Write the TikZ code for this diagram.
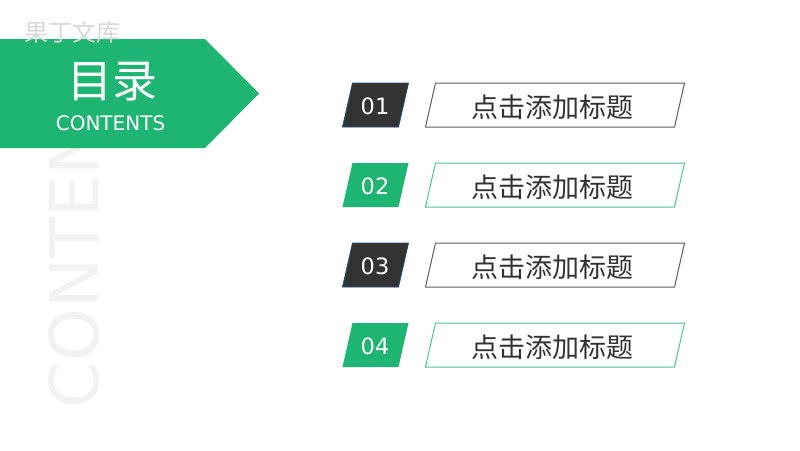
\documentclass[tikz,border=0pt]{standalone}
\usepackage{fontspec}
\setmainfont{DejaVu Sans}
\newfontfamily\cjk{Noto Sans CJK SC}[Scale=1.0]
\definecolor{brandgreen}{HTML}{1DB571}
\definecolor{darkfill}{HTML}{333333}
\definecolor{darkedge}{HTML}{1F4E79}
\definecolor{greyedge}{HTML}{5F5F5F}
\definecolor{softgreen}{HTML}{4CC794}
\definecolor{titletext}{HTML}{333333}
\definecolor{ghost}{HTML}{F2F2F2}
\definecolor{mark}{HTML}{D9D9D9}
\tikzset{
  numdark/.style={fill=darkfill,draw=darkedge,line width=0.8pt},
  numgreen/.style={fill=brandgreen},
  boxdark/.style={draw=greyedge,line width=1pt},
  boxgreen/.style={draw=softgreen,line width=1pt},
  numtext/.style={text=white,font=\fontsize{22.5}{24}\selectfont,inner sep=0pt},
  titlelabel/.style={text=titletext,font=\cjk\fontsize{27}{30}\selectfont,inner sep=0pt},
}
\begin{document}
\begin{tikzpicture}[x=1pt,y=-1pt]
\useasboundingbox (0,0) rectangle (800,450);
\fill[white] (0,0) rectangle (800,450);
\node[rotate=90,anchor=base west,text=ghost,inner sep=0pt,font=\fontsize{67}{70}\selectfont] (ghosttext) at (98,408.5) {CONTENTS};
\fill[brandgreen] (0,39) -- (205,39) -- (259,93.5) -- (205,148) -- (0,148) -- cycle;
\node[text=mark,inner sep=0pt,font=\cjk\fontsize{24}{26}\selectfont] (wm) at (72,32) {果丁文库};
\node[text=white,inner sep=0pt,font=\cjk\fontsize{45}{48}\selectfont] (mulu) at (112.5,82) {目录};
\node[text=white,inner sep=0pt,font=\fontsize{20}{22}\selectfont] (cont) at (110.5,123) {CONTENTS};
\foreach \i/\y/\num/\ns/\bs in {1/83/01/numdark/boxdark,2/163/02/numgreen/boxgreen,3/243/03/numdark/boxdark,4/323/04/numgreen/boxgreen}{
  \path[\ns] (342.5,\y+44) -- (352.5,\y) -- (408.5,\y) -- (398.5,\y+44) -- cycle;
  \path[\bs] (425.5,\y+44) -- (435.5,\y) -- (684.5,\y) -- (674.5,\y+44) -- cycle;
  \node[numtext] (num\i) at (375,\y+23) {\num};
  \node[titlelabel] (title\i) at (552.5,\y+24.5) {点击添加标题};
}
\end{tikzpicture}
\end{document}
